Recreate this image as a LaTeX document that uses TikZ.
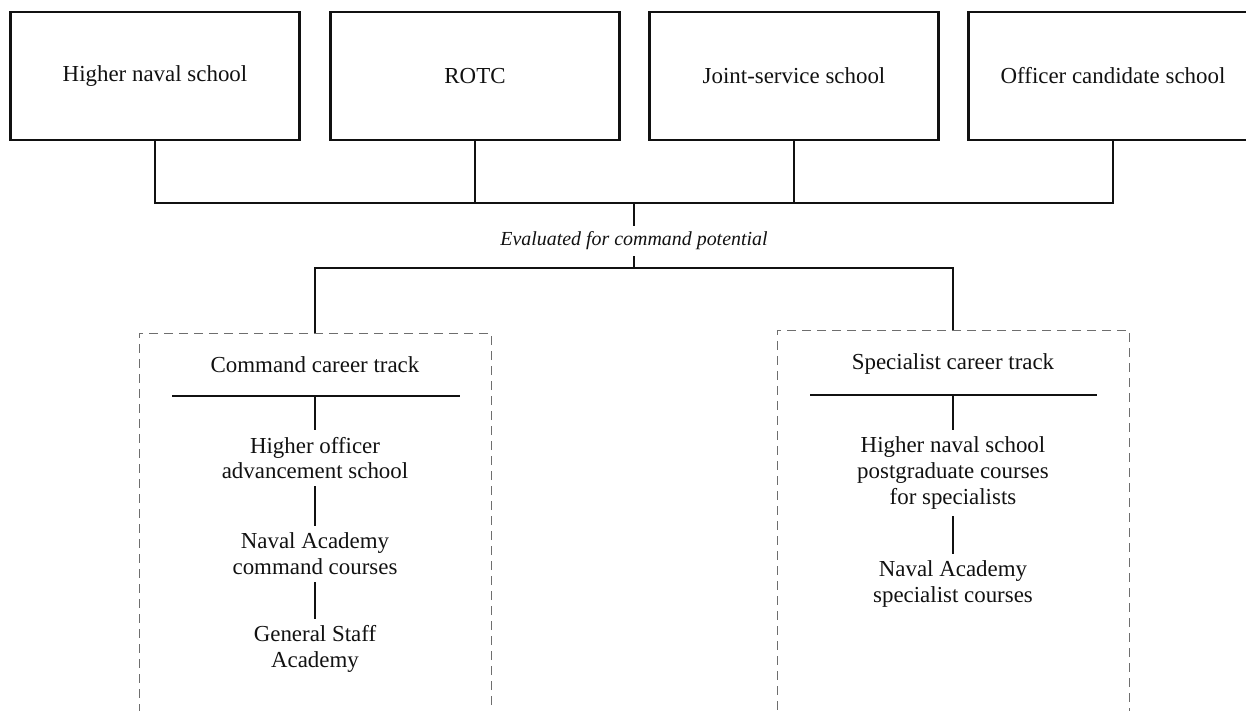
\documentclass[tikz,border=0pt]{standalone}
\usepackage{fontspec}
\setmainfont{Liberation Serif}
\usetikzlibrary{calc}
\definecolor{ink}{HTML}{111111}
\definecolor{frame}{HTML}{6E6E6E}
\newcommand{\boxfont}{\fontsize{23}{26}\selectfont}
\newcommand{\notefont}{\fontsize{20}{24}\selectfont\itshape}
\tikzset{
  every node/.style={font=\boxfont,text=ink,inner sep=0pt,outer sep=0pt},
  school/.style={draw=ink,line width=2.6bp,minimum width=289bp,minimum height=128bp},
  trackframe/.style={draw=frame,line width=.9bp,dash pattern=on 9bp off 6bp,minimum width=352bp,minimum height=440bp,anchor=north},
  stage/.style={align=center,inner sep=7bp},
  link/.style={draw=ink,line width=1.2bp},
  rule/.style={draw=ink,line width=1.6bp},
  note/.style={font=\notefont,inner sep=6bp}
}

\begin{document}
\begin{tikzpicture}[x=1bp,y=-1bp]

\path[use as bounding box] (0,0) rectangle (1246,711);
\clip (0,0) rectangle (1246,711);
% Entry schools along the top; the last box runs off the right edge.
\node[school] (hns) at (155,76) {Higher naval school};
\node[school] (rotc) at (475,76) {ROTC};
\node[school] (jss) at (794,76) {Joint-service school};
\node[school] (ocs) at (1113,76) {Officer candidate school};

\coordinate (merge) at (634,203);
\coordinate (split) at (634,268);
\draw[link] (hns.south) -- (hns.south |- merge) -| (ocs.south);
\draw[link] (rotc.south) -- (rotc.south |- merge);
\draw[link] (jss.south) -- (jss.south |- merge);
\node[note] (eval) at (634,241) {Evaluated for command potential};
\draw[link] (merge) -- (eval.north);
\draw[link] (eval.south) -- (split);

% Two career tracks, open at the bottom.
\node[trackframe] (cmdframe) at (315,333) {};
\node[trackframe] (specframe) at (953,330) {};
\draw[link] (cmdframe.north) |- (split) -| (specframe.north);

\node (cmdtitle) at (315,365) {Command career track};
\coordinate (cmdrule) at (315,396);
\draw[rule] (172,396) -- (460,396);
\node[stage] (hoas) at (315,458) {Higher officer\\advancement school};
\node[stage] (nacc) at (315,554) {Naval Academy\\command courses};
\node[stage] (gsa) at (315,649) {General Staff\\Academy};
\draw[link] (cmdrule) -- (hoas);
\draw[link] (hoas) -- (nacc);
\draw[link] (nacc) -- (gsa);

\node (spectitle) at (953,364) {Specialist career track};
\coordinate (specrule) at (953,395);
\draw[rule] (810,395) -- (1097,395);
\node[stage] (hnspg) at (953,473) {Higher naval school\\postgraduate courses\\for specialists};
\node[stage] (nasc) at (953,584) {Naval Academy\\specialist courses};
\draw[link] (specrule) -- (hnspg);
\draw[link] (hnspg) -- (nasc);
\end{tikzpicture}
\end{document}
